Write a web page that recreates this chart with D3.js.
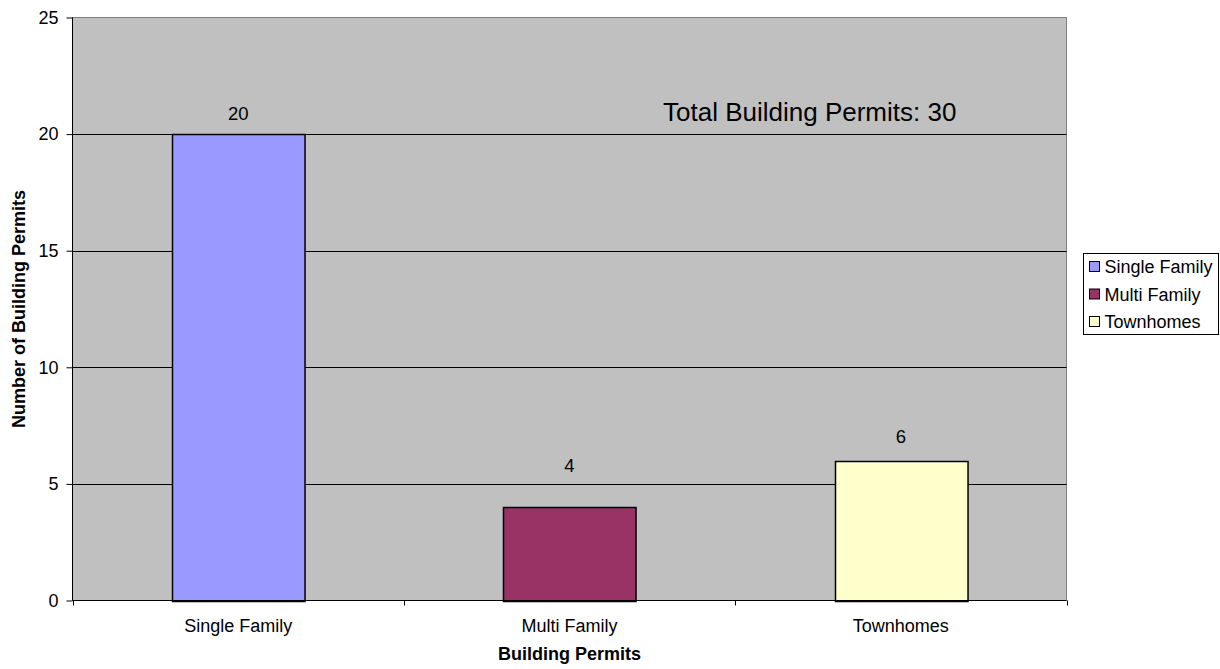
<!DOCTYPE html>
<html><head><meta charset="utf-8">
<script src="https://cdn.jsdelivr.net/npm/d3@7"></script>
<style>body{margin:0;background:#fff;} text{font-family:"Liberation Sans",Arial,sans-serif;}</style>
</head><body>
<svg id="c" width="1220" height="669"></svg>
<script>
const categories = ["Single Family", "Multi Family", "Townhomes"];
const values = [20, 4, 6];
const colors = ["#9999FF", "#993366", "#FFFFCC"];
const yTicks = [0, 5, 10, 15, 20, 25];
const annotation = "Total Building Permits: 30";
const xTitle = "Building Permits";
const yTitle = "Number of Building Permits";

// label gap above bar top (styling, as placed in the original)
const labelGap = {"Single Family": 14, "Multi Family": 35, "Townhomes": 18};

const svg = d3.select("#c");
const L = 72.5, R = 1066.5, T = 17.5, B = 600.5;
const x = d3.scaleBand().domain(categories).range([L, R]).paddingInner(0.6).paddingOuter(0.3);
const xb = d3.scaleBand().domain(categories).range([L, R]);
const y = d3.scaleLinear().domain([0, 25]).range([B, T]);

svg.append("rect").attr("x", L).attr("y", T).attr("width", R - L).attr("height", B - T)
  .attr("fill", "#C0C0C0").attr("stroke", "#808080").attr("stroke-width", 1);

// gridlines
svg.append("g").selectAll("line").data(yTicks.filter(d => d > 0 && d < 25)).join("line")
  .attr("x1", L).attr("x2", R).attr("y1", d => Math.round(y(d)) + 0.5).attr("y2", d => Math.round(y(d)) + 0.5)
  .attr("stroke", "#000").attr("stroke-width", 1);

// bars
svg.append("g").selectAll("rect").data(values).join("rect")
  .attr("x", (d, i) => Math.round(x(categories[i])) + 0.5)
  .attr("y", d => Math.round(y(d)) + 0.5)
  .attr("width", x.bandwidth())
  .attr("height", d => Math.round(y(0)) - Math.round(y(d)))
  .attr("fill", (d, i) => colors[i]).attr("stroke", "#000").attr("stroke-width", 1.5);

// value labels
svg.append("g").selectAll("text").data(values).join("text")
  .attr("x", (d, i) => x(categories[i]) + x.bandwidth() / 2)
  .attr("y", (d, i) => y(d) - labelGap[categories[i]])
  .attr("text-anchor", "middle").attr("font-size", 18.5).attr("fill", "#000").text(d => d);

// y axis
const yAxis = svg.append("g").attr("transform", `translate(${L},0)`)
  .call(d3.axisLeft(y).tickValues(yTicks).tickSize(6).tickPadding(8).tickFormat(d3.format("d")));
yAxis.select(".domain").attr("stroke", "#000").attr("d", `M0,${T}V${B}`);
yAxis.selectAll(".tick line").attr("stroke", "#000");
yAxis.selectAll("text").attr("font-size", 18).attr("fill", "#000");

// x axis
const xAxis = svg.append("g").attr("transform", `translate(0,${B})`)
  .call(d3.axisBottom(xb).tickSize(0).tickPadding(19));
xAxis.select(".domain").attr("stroke", "#000").attr("d", `M${L},0H${R}`);
xAxis.selectAll("text").attr("font-size", 18).attr("fill", "#000");
// boundary ticks
const bounds = categories.map(c => xb(c)).concat([R]);
svg.append("g").selectAll("line").data(bounds).join("line")
  .attr("x1", d => Math.round(d) + 0.5).attr("x2", d => Math.round(d) + 0.5)
  .attr("y1", B).attr("y2", B + 5).attr("stroke", "#000");

// titles
svg.append("text").attr("x", (L + R) / 2).attr("y", 660).attr("text-anchor", "middle")
  .attr("font-size", 18).attr("font-weight", "bold").text(xTitle);
svg.append("text").attr("transform", `translate(25,${(T + B) / 2}) rotate(-90)`).attr("text-anchor", "middle")
  .attr("font-size", 18).attr("font-weight", "bold").text(yTitle);

// annotation
svg.append("text").attr("x", 663).attr("y", 121).attr("font-size", 26).text(annotation);

// legend
const lg = svg.append("g").attr("transform", "translate(1083.5,253.5)");
lg.append("rect").attr("width", 135).attr("height", 81).attr("fill", "#fff").attr("stroke", "#000");
categories.forEach((c, i) => {
  const g = lg.append("g").attr("transform", `translate(6,${13 + i * 27.5})`);
  g.append("rect").attr("x", 0).attr("y", -5).attr("width", 10).attr("height", 10)
    .attr("fill", colors[i]).attr("stroke", "#000").attr("stroke-width", 1);
  g.append("text").attr("x", 15).attr("y", 6.5).attr("font-size", 18).text(c);
});
</script>
</body></html>
